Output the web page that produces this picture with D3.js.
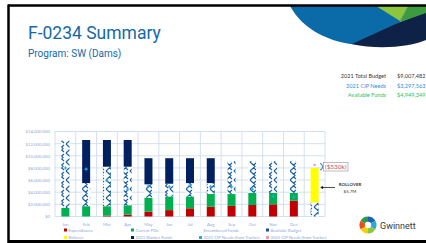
<!DOCTYPE html>
<html>
<head>
<meta charset="utf-8">
<script src="https://cdn.jsdelivr.net/npm/d3@7"></script>
<style>
  html, body { margin: 0; padding: 0; background: #fff; }
  svg { display: block; }
</style>
</head>
<body>
<svg id="chart" width="426" height="243"></svg>
<script>
// values in $ millions
const months = ["Jan", "Feb", "Mar", "Apr", "May", "Jun", "Jul", "Aug", "Sep", "Oct", "Nov", "Dec", ""];
const expenditures = [0, 0, 0.15, 0.3, 0.8, 1.05, 1.35, 1.6, 1.75, 1.9, 2.0, 2.6, 0];
const currentPOs = [1.4, 1.7, 1.55, 1.55, 2.3, 2.25, 1.95, 2.1, 1.95, 2.0, 1.9, 1.3, 0];
const encumbered = [0, 0, 0, 0, 0, 0, 0, 0, 0, 0, 0, 0, 0];
const availableBudget = [11.1, 3.8, 6.5, 6.35, 2.2, 2.1, 2.2, 1.8, 5.4, 5.2, 5.2, 5.2, 2.3];
const blanketFunds = [0, 7.1, 4.4, 4.4, 4.3, 4.2, 4.1, 4.1, 0, 0, 0, 0, 0];
const rollover = [0, 0, 0, 0, 0, 0, 0, 0, 0, 0, 0, 0, 5.7];
const cipNeeds2021 = [8.0, 7.8, 5.9, 4.5, 5.0, 4.9, 5.1, 4.9, 4.9, 4.5, 3.3, 3.2, null];
const cipNeeds2022 = [null, null, null, null, null, null, null, null, null, null, null, null, 8.5];
const yTicks = [0, 2, 4, 6, 8, 10, 12, 14];

const budgetLabels = ["2021 Total Budget", "2021 CIP Needs", "Available Funds"];
const budgetValues = ["$9,007,482", "$3,297,563", "$4,949,349"];
const budgetColors = ["#3a3a3a", "#2f8fdd", "#2fbf5f"];

const legendRow1 = ["Expenditures", "Current POs", "Encumbered Funds", "Available Budget"];
const legendRow2 = ["Rollover", "2021 Blanket Funds", "2021 CIP Needs (from Tracker)", "2022 CIP Needs (from Tracker)"];

const svg = d3.select("#chart");
const M = 1e6;

// ---- slide frame + corner swoosh
const deco = svg.append("g");
deco.append("path").attr("fill", "#0b6aa8")
  .attr("d", "M290,6 C303,30 330,43 360,45 L400,22 L408,6 Z");
deco.append("path").attr("fill", "#0e2248")
  .attr("d", "M352,44 C378,50 410,47 426,40 L426,12 L400,22 Z");
deco.append("path").attr("fill", "#8cc63f")
  .attr("d", "M376,6 L408,6 L400,21 Z");
deco.append("path").attr("fill", "#3c9a3f")
  .attr("d", "M408,6 L426,6 L426,13 L400,22 Z");
deco.append("line").attr("x1", 8).attr("x2", 426).attr("y1", 5.5).attr("y2", 5.5)
  .attr("stroke", "#000").attr("stroke-width", 2.5);
deco.append("line").attr("x1", 8.5).attr("x2", 8.5).attr("y1", 4.5).attr("y2", 243)
  .attr("stroke", "#000").attr("stroke-width", 2.5);
deco.append("line").attr("x1", 8).attr("x2", 426).attr("y1", 241.5).attr("y2", 241.5)
  .attr("stroke", "#000").attr("stroke-width", 3);

// ---- titles
svg.append("text").attr("x", 28).attr("y", 38.5)
  .attr("font-family", "Roboto").attr("font-size", 17.5).attr("fill", "#1669a6")
  .text("F-0234 Summary");
svg.append("text").attr("x", 28).attr("y", 56.5)
  .attr("font-family", "Roboto").attr("font-size", 10).attr("fill", "#1669a6")
  .text("Program: SW (Dams)");

// ---- budget summary
budgetLabels.forEach((t, i) => {
  svg.append("text").attr("x", 386).attr("y", 78 + i * 9.6).attr("text-anchor", "end")
    .attr("font-family", "Lato").attr("font-size", 5.6).attr("fill", budgetColors[i]).text(t);
  svg.append("text").attr("x", 397).attr("y", 78 + i * 9.6)
    .attr("font-family", "Lato").attr("font-size", 5.6).attr("fill", budgetColors[i]).text(budgetValues[i]);
});

// ---- chart
const plot = { left: 55, right: 325, top: 131.5, bottom: 216.5 };
const x = d3.scaleBand().domain(d3.range(months.length)).range([plot.left, plot.right]);
const y = d3.scaleLinear().domain([0, 14 * M]).range([plot.bottom, plot.top]);

const defs = svg.append("defs");
const pat = defs.append("pattern").attr("id", "avail").attr("patternUnits", "userSpaceOnUse")
  .attr("width", 8).attr("height", 9).attr("x", 1).attr("y", 0);
pat.append("rect").attr("width", 8).attr("height", 9).attr("fill", "#fff");
pat.append("path").attr("d", "M1,0 L6,4.5 L1,9 M7,1 L4.5,3.2 M4.5,5.8 L7,8")
  .attr("fill", "none").attr("stroke", "#1f63a6").attr("stroke-width", 1.2);

const grid = svg.append("g").attr("stroke", "#c9d8ee").attr("stroke-width", 0.8);
grid.selectAll("line.h").data(yTicks).join("line").attr("class", "h")
  .attr("x1", plot.left).attr("x2", plot.right)
  .attr("y1", d => y(d * M)).attr("y2", d => y(d * M));
grid.selectAll("line.v").data(d3.range(months.length + 1)).join("line").attr("class", "v")
  .attr("x1", i => plot.left + i * x.step()).attr("x2", i => plot.left + i * x.step())
  .attr("y1", plot.top).attr("y2", plot.bottom);

const yAxis = svg.append("g").attr("transform", `translate(${plot.left - 2},0)`)
  .call(d3.axisLeft(y).tickValues(yTicks.map(d => d * M)).tickFormat(d3.format("$,")).tickSize(0));
yAxis.select(".domain").remove();
yAxis.selectAll("text").attr("font-family", "Lato").attr("font-size", 4.3).attr("fill", "#8eaadb");

const xAxis = svg.append("g").attr("transform", `translate(0,${plot.bottom + 3})`)
  .call(d3.axisBottom(x).tickFormat(i => months[i]).tickSize(0));
xAxis.select(".domain").remove();
xAxis.selectAll("text").attr("font-family", "Lato").attr("font-size", 4.3).attr("fill", "#8eaadb");

const keys = ["exp", "po", "enc", "avail", "blanket", "roll"];
const fills = { exp: "#c00000", po: "#00b050", enc: "#ffffff", avail: "url(#avail)", blanket: "#002060", roll: "#ffff00" };
const rows = months.map((m, i) => ({
  i, exp: expenditures[i] * M, po: currentPOs[i] * M, enc: encumbered[i] * M,
  avail: availableBudget[i] * M, blanket: blanketFunds[i] * M, roll: rollover[i] * M
}));
const series = d3.stack().keys(keys)(rows);
const barW = 8;

svg.append("g").selectAll("g").data(series).join("g")
  .attr("fill", d => fills[d.key])
  .selectAll("rect").data(d => d.filter(s => s[1] > s[0])).join("rect")
  .attr("x", d => x(d.data.i) + x.bandwidth() / 2 - barW / 2)
  .attr("width", barW)
  .attr("y", d => y(d[1]))
  .attr("height", d => y(d[0]) - y(d[1]));

// CIP markers
const cip21 = cipNeeds2021.map((v, i) => ({ i, v })).filter(d => d.v != null);
svg.append("g").selectAll("path").data(cip21).join("path")
  .attr("transform", d => `translate(${x(d.i) + x.bandwidth() / 2},${y(d.v * M)})`)
  .attr("d", d3.symbol(d3.symbolCross, 6))
  .attr("fill", "#25a9e6");
const cip22 = cipNeeds2022.map((v, i) => ({ i, v })).filter(d => d.v != null);
svg.append("g").selectAll("circle").data(cip22).join("circle")
  .attr("cx", d => x(d.i) + x.bandwidth() / 2).attr("cy", d => y(d.v * M)).attr("r", 1.2)
  .attr("fill", "#f29a9a");

// rollover annotations
const rollX = x(12) + x.bandwidth() / 2;
svg.append("path").attr("d", "M320,163.5 Q322.5,163.5 322.5,166.8 Q322.5,170 320,170")
  .attr("fill", "none").attr("stroke", "#2f6fbf").attr("stroke-width", 1);
svg.append("rect").attr("x", 323.5).attr("y", 162.5).attr("width", 24.5).attr("height", 8.5)
  .attr("fill", "#fff").attr("stroke", "#a0a0a0").attr("stroke-width", 0.7);
svg.append("text").attr("x", 335.7).attr("y", 169).attr("text-anchor", "middle")
  .attr("font-family", "Lato").attr("font-size", 6.4).attr("fill", "#c0504d").text("($530k)");
svg.append("line").attr("x1", 335).attr("x2", rollX + 6.5).attr("y1", 187.5).attr("y2", 187.5)
  .attr("stroke", "#222").attr("stroke-width", 0.8);
svg.append("path").attr("d", `M${rollX + 5.5},187.5 l3,-1.8 l0,3.6 Z`).attr("fill", "#222");
svg.append("text").attr("x", 350).attr("y", 186).attr("text-anchor", "middle")
  .attr("font-family", "Lato").attr("font-weight", "bold").attr("font-size", 4.4).attr("fill", "#333").text("ROLLOVER");
svg.append("text").attr("x", 350).attr("y", 192.5).attr("text-anchor", "middle")
  .attr("font-family", "Lato").attr("font-size", 4.4).attr("fill", "#333").text("$5.7M");

// legend
const legX = [64, 131, 199, 266];
const sw1 = ["#c00000", "#00b050", "none", "#1f4e9a"];
const sw2 = ["#ffff00", "#002060", "#25a9e6", "#f29a9a"];
[[legendRow1, sw1, 231.5], [legendRow2, sw2, 239]].forEach(([labels, sws, ly]) => {
  labels.forEach((t, i) => {
    if (sws[i] !== "none")
      svg.append("rect").attr("x", legX[i]).attr("y", ly - 3).attr("width", 3).attr("height", 3).attr("fill", sws[i]);
    svg.append("text").attr("x", legX[i] + 4.5).attr("y", ly)
      .attr("font-family", "Lato").attr("font-size", 4.2).attr("fill", "#8ea6d8").text(t);
  });
});

// Gwinnett logo
const logo = svg.append("g").attr("transform", "translate(368,225)");
const arcGen = d3.arc().innerRadius(3).outerRadius(8.5);
const logoColors = ["#1a63b0", "#29a7df", "#8cc63f", "#f6d000", "#e94e1b", "#2a9c48"];
const logoParts = d3.pie().sort(null)([1, 1, 1, 1, 1, 1]);
logo.selectAll("path").data(logoParts).join("path")
  .attr("d", arcGen).attr("fill", (d, i) => logoColors[i]);
logo.append("circle").attr("r", 3.2).attr("fill", "#fff");
svg.append("text").attr("x", 380).attr("y", 229)
  .attr("font-family", "Roboto").attr("font-size", 9).attr("fill", "#3a3a3a").text("Gwinnett");
</script>
</body>
</html>
